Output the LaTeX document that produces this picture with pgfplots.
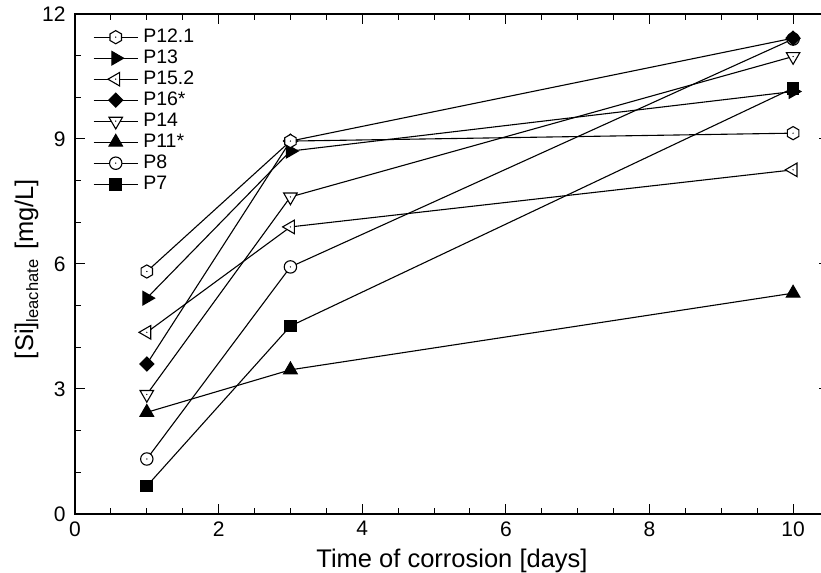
\documentclass[border=0pt]{standalone}
\usepackage{fontspec}
\setmainfont{Liberation Sans}
\usepackage{pgfplots}
\pgfplotsset{compat=1.18}

\newcommand{\mkdot}{\begin{pgfscope}\pgfsetfillcolor{black}\pgfpathcircle{\pgfpointorigin}{0.7bp}\pgfusepathqfill\end{pgfscope}}
\newcommand{\polyA}[3]{%
  \pgfpathmoveto{\pgfqpointpolar{#1}{\pgfplotmarksize}}%
  \pgfpathlineto{\pgfqpointpolar{#2}{\pgfplotmarksize}}%
  \pgfpathlineto{\pgfqpointpolar{#3}{\pgfplotmarksize}}%
  \pgfpathclose\pgfusepathqfillstroke}
\pgfdeclareplotmark{hexdot}{%
  \pgfpathmoveto{\pgfqpointpolar{90}{\pgfplotmarksize}}%
  \pgfpathlineto{\pgfqpointpolar{150}{\pgfplotmarksize}}%
  \pgfpathlineto{\pgfqpointpolar{210}{\pgfplotmarksize}}%
  \pgfpathlineto{\pgfqpointpolar{270}{\pgfplotmarksize}}%
  \pgfpathlineto{\pgfqpointpolar{330}{\pgfplotmarksize}}%
  \pgfpathlineto{\pgfqpointpolar{30}{\pgfplotmarksize}}%
  \pgfpathclose\pgfusepathqfillstroke\mkdot}
\pgfdeclareplotmark{circdot}{%
  \pgfpathcircle{\pgfpointorigin}{\pgfplotmarksize}\pgfusepathqfillstroke\mkdot}
\pgfdeclareplotmark{triLdot}{\polyA{180}{60}{300}\mkdot}
\pgfdeclareplotmark{triDdot}{\polyA{270}{30}{150}\mkdot}
\pgfdeclareplotmark{triR}{\polyA{0}{120}{240}}
\pgfdeclareplotmark{triU}{\polyA{90}{210}{330}}
\pgfdeclareplotmark{diam}{%
  \pgfpathmoveto{\pgfqpoint{0pt}{\pgfplotmarksize}}%
  \pgfpathlineto{\pgfqpoint{\pgfplotmarksize}{0pt}}%
  \pgfpathlineto{\pgfqpoint{0pt}{-\pgfplotmarksize}}%
  \pgfpathlineto{\pgfqpoint{-\pgfplotmarksize}{0pt}}%
  \pgfpathclose\pgfusepathqfillstroke}

\begin{document}
\begin{tikzpicture}
\begin{axis}[
  scale only axis, width=754bp, height=500bp,
  xmin=0, xmax=10.5, ymin=0, ymax=12,
  xtick={0,2,...,10}, ytick={0,3,...,12},
  minor x tick num=3, minor y tick num=2,
  tick align=inside, xtick pos=both, ytick pos=both,
  major tick length=10bp, minor tick length=6bp,
  axis line style={line width=1.5bp},
  every tick/.style={line width=1bp, black},
  /pgf/number format/assume math mode=true,
  tick label style={font=\fontsize{21bp}{24bp}\selectfont},
  xticklabel style={yshift=-4bp},
  yticklabel style={xshift=-6bp},
  every axis x label/.style={at={(axis description cs:0.5,0)}, anchor=base, yshift=-53bp},
  every axis y label/.style={at={(axis description cs:-0.0557,0.49)}, rotate=90, anchor=base},
  label style={font=\fontsize{25.5bp}{28bp}\selectfont},
  xlabel={Time of corrosion [days]},
  ylabel={[Si]\raisebox{-5bp}{\fontsize{16.5bp}{16bp}\selectfont leachate}\hspace{10bp}[mg/L]},
  every axis plot/.append style={line width=1.1bp, black, mark options={line width=0.9bp, solid}},
  reverse legend, legend cell align=left,
  legend style={draw=none, fill=none, at={(axis description cs:0,1)}, anchor=north west,
    xshift=18bp, yshift=-14bp, inner sep=0pt, row sep=3bp,
    font=\fontsize{19.5bp}{20bp}\selectfont,
    nodes={inner sep=0pt, text height=14bp, text depth=4bp},
    /tikz/every odd column/.style={column sep=5bp}},
  legend image code/.code={\draw[mark repeat=2,mark phase=2,#1] plot coordinates {(0bp,0bp)(22bp,0bp)(44bp,0bp)};},
]
\addplot[mark=square*, mark size=5.8bp, mark options={fill=black}] coordinates {(1,0.67) (3,4.51) (10,10.22)};
\addlegendentry{P7}
\addplot[mark=circdot, mark size=6.2bp, mark options={fill=white}] coordinates {(1,1.32) (3,5.93) (10,11.40)};
\addlegendentry{P8}
\addplot[mark=triU, mark size=7.8bp, mark options={fill=black}] coordinates {(1,2.44) (3,3.46) (10,5.30)};
\addlegendentry{P11*}
\addplot[mark=triDdot, mark size=7.8bp, mark options={fill=white}] coordinates {(1,2.87) (3,7.61) (10,10.98)};
\addlegendentry{P14}
\addplot[mark=diam, mark size=7bp, mark options={fill=black}] coordinates {(1,3.60) (3,8.95) (10,11.42)};
\addlegendentry{P16*}
\addplot[mark=triLdot, mark size=7.8bp, mark options={fill=white}] coordinates {(1,4.36) (3,6.89) (10,8.26)};
\addlegendentry{P15.2}
\addplot[mark=triR, mark size=7.8bp, mark options={fill=black}] coordinates {(1,5.18) (3,8.71) (10,10.14)};
\addlegendentry{P13}
\addplot[mark=hexdot, mark size=6.6bp, mark options={fill=white}] coordinates {(1,5.82) (3,8.95) (10,9.14)};
\addlegendentry{P12.1}
\end{axis}
\pgfresetboundingbox
\path[use as bounding box] ([shift={(-75bp,-59bp)}]current axis.south west) rectangle ([shift={(746bp,514bp)}]current axis.south west);
\end{tikzpicture}
\end{document}
